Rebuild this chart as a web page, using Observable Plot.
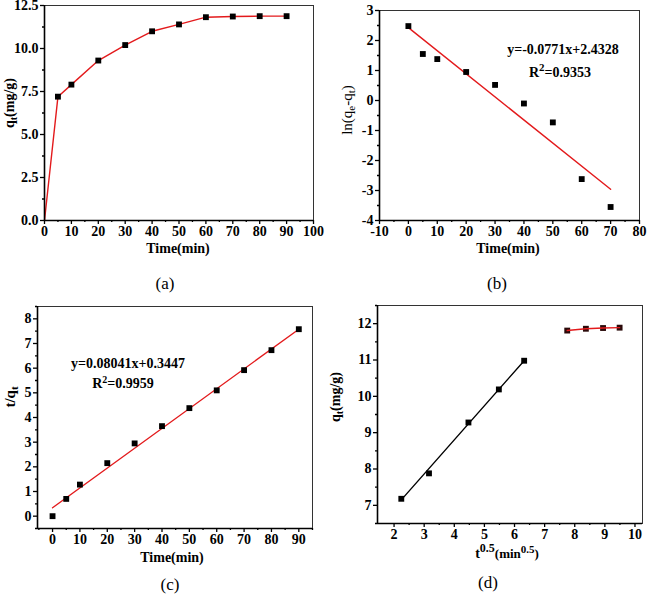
<!DOCTYPE html>
<html>
<head>
<meta charset="utf-8">
<script src="https://cdn.jsdelivr.net/npm/d3@7"></script>
<script src="https://cdn.jsdelivr.net/npm/@observablehq/plot@0.6"></script>
<style>
  html, body { margin: 0; padding: 0; background: #fff; }
  #root { position: relative; width: 650px; height: 601px; background: #fff; overflow: hidden; }
</style>
</head>
<body>
<div id="root"></div>
<script>
// ---------- data ----------
// (a) adsorption kinetics
const timeA = [0, 5, 10, 20, 30, 40, 50, 60, 70, 80, 90];
const qtA = [0, 7.2, 7.9, 9.3, 10.2, 11.0, 11.4, 11.82, 11.86, 11.88, 11.88];
// (b) pseudo-first-order
const timeB = [0, 5, 10, 20, 30, 40, 50, 60, 70];
const lnB = [2.48, 1.55, 1.38, 0.95, 0.52, -0.10, -0.73, -2.62, -3.55];
const fitBx = [0, 70];
const fitBy = [2.43, -2.96];
// (c) pseudo-second-order
const timeC = [0, 5, 10, 20, 30, 40, 50, 60, 70, 80, 90];
const tqC = [0.0, 0.70, 1.28, 2.15, 2.95, 3.65, 4.38, 5.10, 5.92, 6.73, 7.58];
const fitCx = [0, 90];
const fitCy = [0.34, 7.58];
// (d) intraparticle diffusion
const sqrtD1 = [2.24, 3.16, 4.47, 5.48, 6.32];
const qD1 = [7.18, 7.88, 9.28, 10.19, 10.98];
const fitD1x = [2.24, 6.32];
const fitD1y = [7.15, 10.98];
const sqrtD2 = [7.75, 8.37, 8.94, 9.49];
const qD2 = [11.81, 11.86, 11.88, 11.89];

// tick labels
const xTicksA = [0, 10, 20, 30, 40, 50, 60, 70, 80, 90, 100];
const xMinorA = [5, 15, 25, 35, 45, 55, 65, 75, 85, 95];
const yTicksA = [0, 2.5, 5, 7.5, 10, 12.5];
const yMinorA = [1.25, 3.75, 6.25, 8.75, 11.25];
const xTicksB = [-10, 0, 10, 20, 30, 40, 50, 60, 70, 80];
const xMinorB = [-5, 5, 15, 25, 35, 45, 55, 65, 75];
const yTicksB = [-4, -3, -2, -1, 0, 1, 2, 3];
const yMinorB = [-3.5, -2.5, -1.5, -0.5, 0.5, 1.5, 2.5];
const xTicksC = [0, 10, 20, 30, 40, 50, 60, 70, 80, 90];
const xMinorC = [-5, 5, 15, 25, 35, 45, 55, 65, 75, 85, 95];
const yTicksC = [0, 1, 2, 3, 4, 5, 6, 7, 8];
const yMinorC = [-0.5, 0.5, 1.5, 2.5, 3.5, 4.5, 5.5, 6.5, 7.5, 8.5];
const xTicksD = [2, 3, 4, 5, 6, 7, 8, 9, 10];
const xMinorD = [2.5, 3.5, 4.5, 5.5, 6.5, 7.5, 8.5, 9.5];
const yTicksD = [7, 8, 9, 10, 11, 12];
const yMinorD = [6.5, 7.5, 8.5, 9.5, 10.5, 11.5, 12.5];

const RED = "#e31a1c";
const SERIF = "'Liberation Serif', 'Times New Roman', Tinos, 'DejaVu Serif', serif";
const root = document.getElementById("root");

const pts = (xs, ys) => xs.map((x, i) => ({x, y: ys[i]}));
const fmt = d => String(d);

function panel(o) {
  const chart = Plot.plot({
    width: o.w, height: o.h,
    marginLeft: o.ml, marginRight: o.mr, marginTop: o.mt, marginBottom: o.mb,
    x: {domain: o.xDomain},
    y: {domain: o.yDomain},
    style: {fontFamily: SERIF, fontSize: "14px", fontWeight: "bold", color: "#000", background: "transparent", overflow: "visible"},
    marks: [
      Plot.frame({stroke: "#333", strokeWidth: 1}),
      ...o.marks,
      Plot.axisX({ticks: o.xTicks, tickSize: 4, tickPadding: 2, tickFormat: o.xFmt || fmt, label: null, strokeWidth: 1.3}),
      Plot.axisX({ticks: o.xMinor, tickSize: 2, tickFormat: () => "", label: null, strokeWidth: 1.3}),
      Plot.axisY({ticks: o.yTicks, tickSize: 4, tickPadding: 2, tickFormat: o.yFmt || fmt, label: null, strokeWidth: 1.3}),
      Plot.axisY({ticks: o.yMinor, tickSize: 2, tickFormat: () => "", label: null, strokeWidth: 1.3}),
      Plot.ruleX([o.xDomain[0]], {stroke: "#000", strokeWidth: 1.6}),
      Plot.ruleY([o.yDomain[0]], {stroke: "#000", strokeWidth: 1.6})
    ]
  });
  chart.style.position = "absolute";
  chart.style.left = o.ox + "px";
  chart.style.top = o.oy + "px";
  root.appendChild(chart);
  return d3.select(chart);
}

function addText(svg, x, y, parts, opts = {}) {
  const size = opts.size || 14;
  const t = svg.append("text")
    .attr("transform", `translate(${x},${y})` + (opts.rotate ? " rotate(-90)" : ""))
    .attr("text-anchor", "middle")
    .attr("dy", "0.35em")
    .style("font-family", SERIF)
    .attr("font-size", size)
    .attr("font-weight", opts.weight || "bold")
    .attr("fill", "#000");
  for (const p of parts) {
    const s = t.append("tspan").text(p.t);
    if (p.size) s.attr("font-size", p.size);
    if (p.shift) s.attr("baseline-shift", p.shift);
  }
  return t;
}

function caption(svg, x, y, s) {
  addText(svg, x, y, [{t: s}], {size: 17, weight: "normal"});
}

// ---------- (a) ----------
const A = pts(timeA, qtA);
const sa = panel({
  ox: 0, oy: 0, w: 325, h: 300, ml: 44, mr: 12, mt: 5, mb: 80,
  xDomain: [0, 100], yDomain: [0, 12.5],
  xTicks: xTicksA, xMinor: xMinorA, yTicks: yTicksA, yMinor: yMinorA,
  yFmt: d3.format(".1f"),
  marks: [
    Plot.line(A, {x: "x", y: "y", stroke: RED, strokeWidth: 1.4}),
    Plot.dot(A.filter(d => d.x > 0), {x: "x", y: "y", symbol: "square", r: 3.3, fill: "#000"})
  ]
});
addText(sa, 178, 248, [{t: "Time(min)"}]);
addText(sa, 9, 103, [{t: "q"}, {t: "t", size: 10, shift: -3}, {t: "(mg/g)"}], {rotate: true});
caption(sa, 165, 283, "(a)");

// ---------- (b) ----------
const B = pts(timeB, lnB);
const sb = panel({
  ox: 325, oy: 0, w: 325, h: 300, ml: 54, mr: 11, mt: 10, mb: 80,
  xDomain: [-10, 80], yDomain: [-4, 3],
  xTicks: xTicksB, xMinor: xMinorB, yTicks: yTicksB, yMinor: yMinorB,
  marks: [
    Plot.line(pts(fitBx, fitBy), {x: "x", y: "y", stroke: RED, strokeWidth: 1.4}),
    Plot.dot(B, {x: "x", y: "y", symbol: "square", r: 3.3, fill: "#000"})
  ]
});
addText(sb, 183, 248, [{t: "Time(min)"}]);
addText(sb, 22, 110, [{t: "ln(q"}, {t: "e", size: 11, shift: -3}, {t: "-q"}, {t: "t", size: 11, shift: -3}, {t: ")"}], {rotate: true, weight: "normal", size: 15});
addText(sb, 238, 49, [{t: "y=-0.0771x+2.4328"}]);
addText(sb, 235, 72, [{t: "R"}, {t: "2", size: 11, shift: 6}, {t: "=0.9353"}]);
caption(sb, 172, 283, "(b)");

// ---------- (c) ----------
const C = pts(timeC, tqC);
const sc = panel({
  ox: 0, oy: 300, w: 325, h: 301, ml: 37, mr: 13, mt: 6, mb: 73,
  xDomain: [-5.5, 95], yDomain: [-0.5, 8.5],
  xTicks: xTicksC, xMinor: xMinorC, yTicks: yTicksC, yMinor: yMinorC,
  marks: [
    Plot.line(pts(fitCx, fitCy), {x: "x", y: "y", stroke: RED, strokeWidth: 1.4}),
    Plot.dot(C, {x: "x", y: "y", symbol: "square", r: 3.3, fill: "#000"})
  ]
});
addText(sc, 172, 257, [{t: "Time(min)"}]);
addText(sc, 10, 97, [{t: "t/q"}, {t: "t", size: 11, shift: -3}], {rotate: true, size: 15});
addText(sc, 128, 63, [{t: "y=0.08041x+0.3447"}]);
addText(sc, 123, 83, [{t: "R"}, {t: "2", size: 10, shift: 5}, {t: "=0.9959"}]);
caption(sc, 170, 284, "(c)");

// ---------- (d) ----------
const D1 = pts(sqrtD1, qD1);
const D2 = pts(sqrtD2, qD2);
const sd = panel({
  ox: 325, oy: 300, w: 325, h: 301, ml: 52, mr: 8, mt: 5, mb: 78,
  xDomain: [1.45, 10.25], yDomain: [6.5, 12.5],
  xTicks: xTicksD, xMinor: xMinorD, yTicks: yTicksD, yMinor: yMinorD,
  marks: [
    Plot.line(pts(fitD1x, fitD1y), {x: "x", y: "y", stroke: "#000", strokeWidth: 1.4}),
    Plot.dot(D1, {x: "x", y: "y", symbol: "square", r: 3.3, fill: "#000"}),
    Plot.dot(D2, {x: "x", y: "y", symbol: "square", r: 3.3, fill: "#2a0a0a"}),
    Plot.line(D2, {x: "x", y: "y", stroke: RED, strokeWidth: 1.4})
  ]
});
addText(sd, 182, 253, [{t: "t"}, {t: "0.5", size: 12, shift: 6}, {t: "(min", size: 13}, {t: "0.5", size: 11, shift: 5}, {t: ")", size: 13}]);
addText(sd, 10, 97, [{t: "q"}, {t: "t", size: 10, shift: -3}, {t: "(mg/g)"}], {rotate: true});
caption(sd, 163, 282, "(d)");
</script>
</body>
</html>
